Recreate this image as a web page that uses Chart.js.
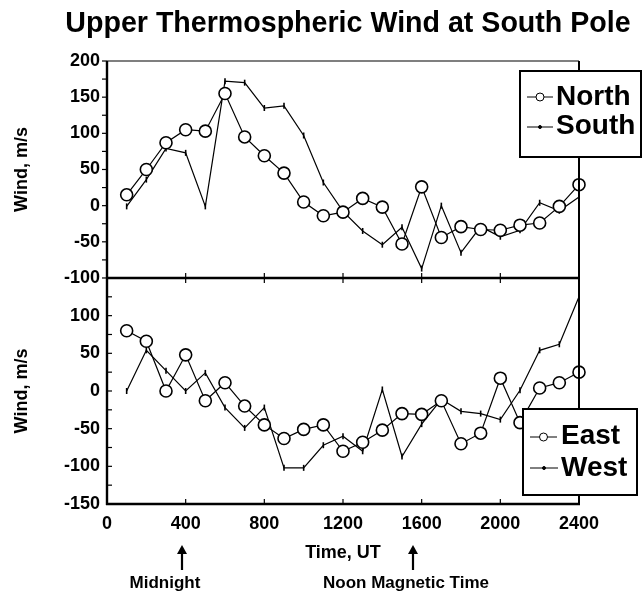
<!DOCTYPE html>
<html>
<head>
<meta charset="utf-8">
<title>Upper Thermospheric Wind at South Pole</title>
<script src="https://cdn.jsdelivr.net/npm/chart.js@4.4.1/dist/chart.umd.min.js"></script>
<style>
    html, body { margin: 0; padding: 0; background: #ffffff; }
    #wrap { position: relative; width: 642px; height: 593px; }
</style>
</head>
<body>
<div id="wrap"><canvas id="windChart" width="642" height="593"></canvas></div>
<script>
// Data (wind in m/s, time in UT hhmm)
const hours = [100, 200, 300, 400, 500, 600, 700, 800, 900, 1000, 1100, 1200,
    1300, 1400, 1500, 1600, 1700, 1800, 1900, 2000, 2100, 2200, 2300, 2400];
const northWind = [15, 50, 87, 105, 103, 155, 95, 69, 45, 5, -14, -9,
    10, -2, -53, 26, -44, -29, -33, -34, -27, -24, -1, 29];
const southWind = [-1, 36, 79, 73, -1, 172, 170, 135, 138, 97, 32, -8,
    -35, -54, -30, -87, 0, -65, -29, -43, -34, 4, -7, 12];
const eastWind = [80, 66, 0, 48, -13, 11, -20, -45, -63, -51, -45, -80,
    -68, -52, -30, -31, -13, -70, -56, 17, -42, 4, 11, 25];
const westWind = [0, 54, 27, 0, 24, -22, -49, -22, -102, -102, -72, -60,
    -80, 2, -87, -44, -11, -27, -30, -38, 1, 54, 62, 125];

const timeTicks = [0, 400, 800, 1200, 1600, 2000, 2400];
const topWindTicks = [-100, -50, 0, 50, 100, 150, 200];
const bottomWindTicks = [-150, -100, -50, 0, 50, 100, 150];

const FONT = "'Liberation Sans', Arial, Helvetica, sans-serif";

function points(values) {
    return hours.map((t, i) => ({ x: t, y: values[i] }));
}

function circleSeries(label, values, axis) {
    return {
        label,
        data: points(values),
        yAxisID: axis,
        borderColor: '#000',
        borderWidth: 1.2,
        pointStyle: 'circle',
        pointRadius: 6,
        pointBorderWidth: 1.6,
        pointBackgroundColor: '#fff',
        pointBorderColor: '#000',
        tension: 0,
        clip: false,
    };
}

function barSeries(label, values, axis) {
    return {
        label,
        data: points(values),
        yAxisID: axis,
        borderColor: '#000',
        borderWidth: 1.2,
        pointStyle: 'line',
        pointRotation: 90,
        pointRadius: 3,
        pointBorderWidth: 1.6,
        pointBackgroundColor: '#000',
        pointBorderColor: '#000',
        tension: 0,
        clip: false,
    };
}

function windAxis(values, weight, hideTop) {
    return {
        type: 'linear',
        position: 'left',
        stack: 'wind',
        stackWeight: weight,
        min: values[0],
        max: values[values.length - 1],
        afterBuildTicks: scale => { scale.ticks = values.map(v => ({ value: v })); },
        afterFit: scale => { scale.width = 107; },
        grid: { display: false, drawTicks: false, tickLength: 0 },
        border: { display: false },
        ticks: {
            color: '#000',
            padding: 7,
            autoSkip: false,
            font: { family: FONT, size: 18, weight: 'bold' },
            callback: v => (hideTop && v === values[values.length - 1]) ? '' : String(v),
        },
        title: {
            display: true,
            text: 'Wind, m/s',
            color: '#000',
            padding: { top: 11, bottom: 0 },
            font: { family: FONT, size: 18, weight: 'bold' },
        },
    };
}

function line(ctx, x1, y1, x2, y2, width) {
    ctx.beginPath();
    ctx.lineWidth = width;
    ctx.moveTo(x1, y1);
    ctx.lineTo(x2, y2);
    ctx.stroke();
}

function drawLegend(ctx, box, entries) {
    ctx.fillStyle = '#fff';
    ctx.fillRect(box.x, box.y, box.w, box.h);
    ctx.strokeStyle = '#000';
    ctx.lineWidth = 2;
    ctx.strokeRect(box.x, box.y, box.w, box.h);

    entries.forEach(e => {
        line(ctx, e.x1, e.y, e.x2, e.y, 1);
        ctx.fillStyle = e.fill;
        Chart.helpers.drawPoint(ctx, {
            pointStyle: e.style,
            radius: e.radius,
            borderWidth: 1.3,
            rotation: e.rotation || 0,
        }, (e.x1 + e.x2) / 2, e.y);
        ctx.fillStyle = '#000';
        ctx.font = 'bold 28px ' + FONT;
        ctx.textAlign = 'left';
        ctx.textBaseline = 'alphabetic';
        ctx.fillText(e.label, e.tx, e.ty);
    });
}

function drawArrow(ctx, x, tipY, baseY) {
    line(ctx, x, baseY, x, tipY + 6, 2.2);
    ctx.beginPath();
    ctx.moveTo(x, tipY);
    ctx.lineTo(x - 5, tipY + 9);
    ctx.lineTo(x + 5, tipY + 9);
    ctx.closePath();
    ctx.fill();
}

const figureExtras = {
    id: 'figureExtras',
    afterDraw(chart) {
        const { ctx, chartArea } = chart;
        const xs = chart.scales.x;
        const top = chart.scales.yTop;
        const bot = chart.scales.yBottom;
        const sets = chart.data.datasets;

        ctx.save();
        ctx.strokeStyle = '#000';
        ctx.fillStyle = '#000';

        // small ticks: top panel outward, bottom panel inward
        for (let v = -100; v <= 200; v += 25) {
            const y = top.getPixelForValue(v);
            line(ctx, chartArea.left - 5, y, chartArea.left, y, 1.2);
        }
        for (let v = -150; v <= 150; v += 25) {
            const y = bot.getPixelForValue(v);
            line(ctx, chartArea.left, y, chartArea.left + 5, y, 1.2);
        }
        for (let t = 400; t < 2400; t += 400) {
            const x = xs.getPixelForValue(t);
            line(ctx, x, top.bottom - 5, x, top.bottom + 5, 1.2);
            line(ctx, x, chartArea.bottom - 5, x, chartArea.bottom, 1.2);
        }

        // panel frames
        line(ctx, chartArea.left, chartArea.top, chartArea.right, chartArea.top, 1.2);
        line(ctx, chartArea.left, chartArea.top, chartArea.left, chartArea.bottom + 1, 2.4);
        line(ctx, chartArea.right, chartArea.top, chartArea.right, chartArea.bottom + 1, 2);
        line(ctx, chartArea.left, top.bottom, chartArea.right, top.bottom, 2.4);
        line(ctx, chartArea.left - 1, chartArea.bottom, chartArea.right + 1, chartArea.bottom, 2.4);

        // title
        ctx.font = 'bold 28.6px ' + FONT;
        ctx.textAlign = 'center';
        ctx.textBaseline = 'alphabetic';
        ctx.fillText('Upper Thermospheric Wind at South Pole', 348, 32);

        // legends
        drawLegend(ctx, { x: 520, y: 71, w: 121, h: 86 }, [
            { label: sets[0].label, style: 'circle', radius: 4, fill: '#fff', x1: 527, x2: 553, y: 97, tx: 556, ty: 105 },
            { label: sets[1].label, style: 'circle', radius: 1.5, fill: '#000', x1: 527, x2: 553, y: 127, tx: 556, ty: 134 },
        ]);
        drawLegend(ctx, { x: 523, y: 409, w: 114, h: 86 }, [
            { label: sets[2].label, style: 'circle', radius: 4, fill: '#fff', x1: 530, x2: 557, y: 437, tx: 561, ty: 444 },
            { label: sets[3].label, style: 'circle', radius: 1.5, fill: '#000', x1: 530, x2: 558, y: 468, tx: 561, ty: 476 },
        ]);

        // magnetic time markers below the axis
        ctx.fillStyle = '#000';
        drawArrow(ctx, 182, 545, 570);
        drawArrow(ctx, 413, 545, 570);
        ctx.font = 'bold 17px ' + FONT;
        ctx.textAlign = 'center';
        ctx.textBaseline = 'middle';
        ctx.fillText('Midnight', 165, 583);
        ctx.fillText('Noon Magnetic Time', 406, 583);
        ctx.restore();
    },
};

new Chart(document.getElementById('windChart'), {
    type: 'line',
    data: {
        datasets: [
            circleSeries('North', northWind, 'yTop'),
            barSeries('South', southWind, 'yTop'),
            circleSeries('East', eastWind, 'yBottom'),
            barSeries('West', westWind, 'yBottom'),
        ],
    },
    options: {
        responsive: false,
        devicePixelRatio: 1,
        animation: false,
        layout: { padding: { left: 0, top: 61, right: 63, bottom: 29 } },
        plugins: {
            legend: { display: false },
            tooltip: { enabled: false },
        },
        scales: {
            x: {
                type: 'linear',
                min: 0,
                max: 2400,
                afterBuildTicks: scale => { scale.ticks = timeTicks.map(v => ({ value: v })); },
                afterFit: scale => { scale.height = 60; },
                grid: { display: false, drawTicks: false, tickLength: 0 },
                border: { display: false },
                ticks: {
                    color: '#000',
                    padding: 9,
                    maxRotation: 0,
                    autoSkip: false,
                    font: { family: FONT, size: 18, weight: 'bold' },
                    callback: v => String(v),
                },
                title: {
                    display: true,
                    text: 'Time, UT',
                    color: '#000',
                    padding: { top: 0, bottom: 0 },
                    font: { family: FONT, size: 18, weight: 'bold' },
                },
            },
            // left-side stacked boxes are laid out in reverse order
            yBottom: windAxis(bottomWindTicks, 1, true),
            yTop: windAxis(topWindTicks, 0.96, false),
        },
    },
    plugins: [figureExtras],
});
</script>
</body>
</html>
